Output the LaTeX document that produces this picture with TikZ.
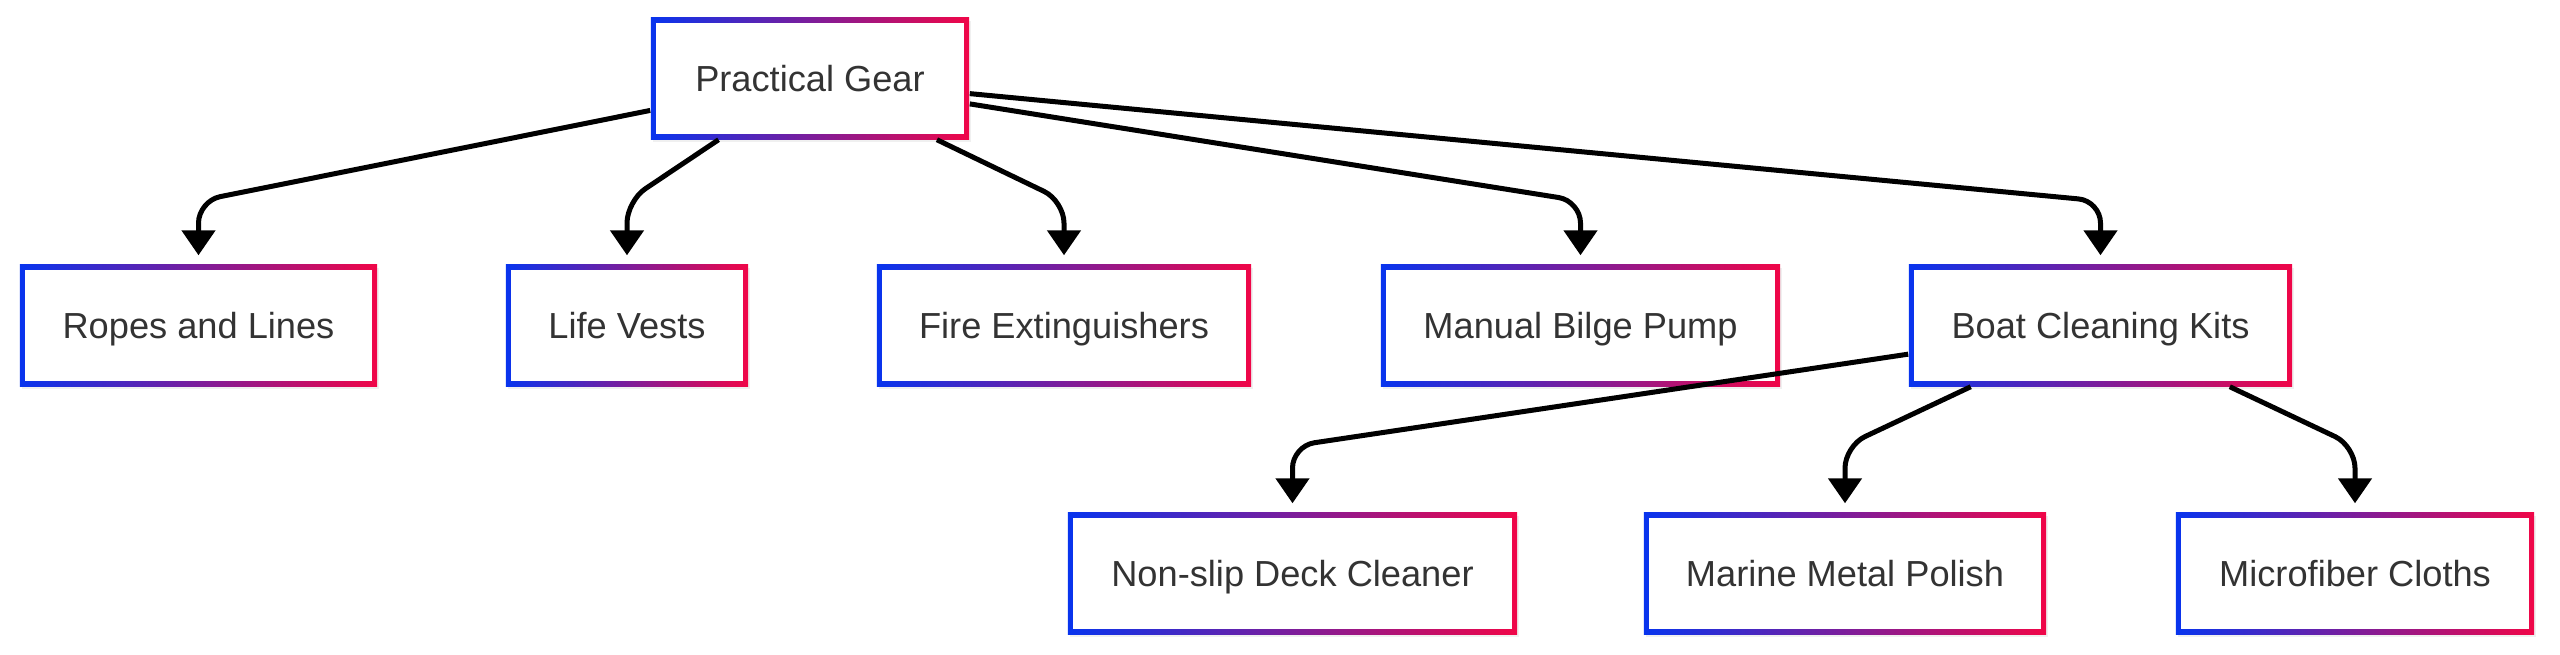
\documentclass[tikz,border=0pt]{standalone}
\usepackage{fontspec}
\setmainfont{Liberation Sans}
\usepackage{tikz}
\usetikzlibrary{arrows.meta, shadows}
\definecolor{gblue}{RGB}{8,52,238}
\definecolor{gred}{RGB}{240,6,72}
\definecolor{txt}{RGB}{51,51,51}
\tikzstyle{item} = [rectangle, minimum height=1.21cm, inner sep=0pt, text=txt,
  font=\fontsize{10.3}{12}\selectfont, text height=0.9em, text depth=0.17em,
  left color=gblue, right color=gred,
  drop shadow={shadow xshift=0.02cm, shadow yshift=-0.03cm, opacity=0.12},
  path picture={\fill[white] ([shift={(0.05cm,-0.05cm)}]path picture bounding box.north west)
    rectangle ([shift={(-0.05cm,0.05cm)}]path picture bounding box.south east);}]
\tikzstyle{link} = [line width=0.05cm, rounded corners=0.22cm, shorten >=0.09cm,
  -{Triangle[width=0.33cm, length=0.25cm]}]

\begin{document}
\begin{tikzpicture}[x=0.01cm, y=-0.01cm]
    \useasboundingbox (0,0) rectangle (2560,654);
    \node (gear) [item, minimum width=3.18cm] at (810,78.5) {Practical Gear};
    \node (ropes) [item, minimum width=3.57cm] at (198.5,325.5) {Ropes and Lines};
    \node (vests) [item, minimum width=2.42cm] at (627,325.5) {Life Vests};
    \node (fire) [item, minimum width=3.74cm] at (1064,325.5) {Fire Extinguishers};
    \node (pump) [item, minimum width=3.99cm] at (1580.5,325.5) {Manual Bilge Pump};
    \node (kits) [item, minimum width=3.83cm] at (2100.5,325.5) {Boat Cleaning Kits};
    \node (deck) [item, minimum width=4.49cm] at (1292.5,573.5) {Non-slip Deck Cleaner};
    \node (polish) [item, minimum width=4.02cm] at (1845,573.5) {Marine Metal Polish};
    \node (cloths) [item, minimum width=3.58cm] at (2355,573.5) {Microfiber Cloths};
    \coordinate (c1) at (198.5,201);
    \coordinate (c2) at (627,201);
    \coordinate (c3) at (1064,201);
    \coordinate (c4) at (1580.5,201);
    \coordinate (c5) at (2100.5,201);
    \coordinate (c6) at (1292.5,446);
    \coordinate (c7) at (1845,446);
    \coordinate (c8) at (2355,446);
    \draw [link] (gear) -- (c1) -- (ropes.north);
    \draw [link] (gear) -- (c2) -- (vests.north);
    \draw [link] (gear) -- (c3) -- (fire.north);
    \draw [link] (gear) -- (c4) -- (pump.north);
    \draw [link] (gear) -- (c5) -- (kits.north);
    \draw [link] (kits) -- (c6) -- (deck.north);
    \draw [link] (kits) -- (c7) -- (polish.north);
    \draw [link] (kits) -- (c8) -- (cloths.north);
\end{tikzpicture}
\end{document}
